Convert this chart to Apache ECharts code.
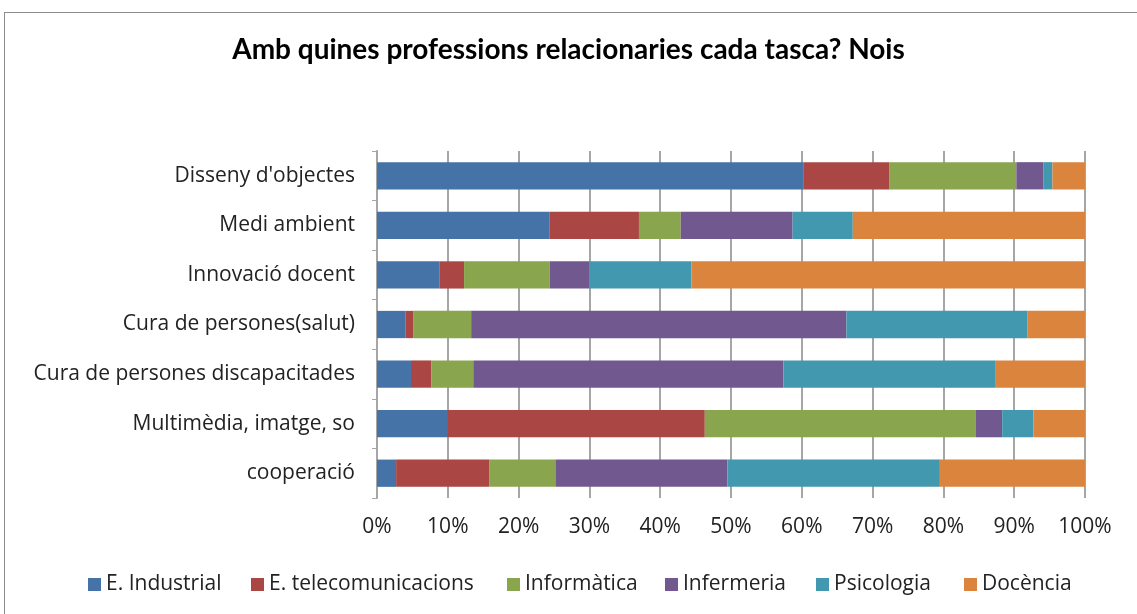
<!DOCTYPE html>
<html>
<head>
<meta charset="utf-8">
<script src="https://cdn.jsdelivr.net/npm/echarts@6/dist/echarts.min.js"></script>
<style>
  html, body { margin: 0; padding: 0; background: #fff; }
  #frame { position: absolute; left: 4px; top: 12px; width: 1140px; height: 610px; border: 1px solid #8c8c8c; box-sizing: border-box; }
  #chart { position: absolute; left: 0; top: 0; width: 1137px; height: 614px; }
</style>
</head>
<body>
<div id="frame"></div>
<div id="chart"></div>
<script>
// categories, bottom to top
var tasks = ['cooperació', 'Multimèdia, imatge, so', 'Cura de persones discapacitades',
  'Cura de persones(salut)', 'Innovació docent', 'Medi ambient', "Disseny d'objectes"];

var industrial = [2.7, 9.9, 4.8, 4.0, 8.8, 24.4, 60.2];
var telecom    = [13.2, 36.4, 2.9, 1.1, 3.5, 12.6, 12.2];
var informatica = [9.3, 38.3, 5.9, 8.2, 12.1, 5.9, 17.9];
var infermeria = [24.3, 3.7, 43.8, 53.0, 5.6, 15.8, 3.8];
var psicologia = [30.0, 4.4, 30.0, 25.6, 14.4, 8.5, 1.3];
var docencia   = [20.5, 7.3, 12.6, 8.1, 55.6, 32.8, 4.6];

var xTicks = ['0%', '10%', '20%', '30%', '40%', '50%', '60%', '70%', '80%', '90%', '100%'];

var names = ['E. Industrial', 'E. telecomunicacions', 'Informàtica', 'Infermeria', 'Psicologia', 'Docència'];
var colors = ['#4572A7', '#AA4643', '#89A54E', '#71588F', '#4198AF', '#DB843D'];
var values = [industrial, telecom, informatica, infermeria, psicologia, docencia];
// left edge of each legend marker
var legendX = [88, 251, 507, 665, 816, 964];

var chart = echarts.init(document.getElementById('chart'));

var series = names.map(function (n, i) {
  return {
    name: n,
    type: 'bar',
    stack: 'total',
    barWidth: '55%',
    itemStyle: { color: colors[i] },
    data: values[i]
  };
});

var legends = names.map(function (n, i) {
  return {
    left: legendX[i] - 5,
    top: 569,
    itemWidth: 13,
    itemHeight: 13,
    icon: 'rect',
    textStyle: { fontFamily: 'Open Sans', fontSize: 21, color: '#222' },
    data: [n]
  };
});

var option = {
  backgroundColor: 'transparent',
  animation: false,
  color: colors,
  title: {
    text: 'Amb quines professions relacionaries cada tasca? Nois',
    left: 'center',
    top: 31,
    textStyle: { fontFamily: 'Lato', fontWeight: 'bold', fontSize: 28, color: '#000' }
  },
  legend: legends,
  grid: { left: 377, right: 52, top: 151, bottom: 116, containLabel: false },
  xAxis: {
    type: 'value',
    min: 0,
    max: 100,
    interval: 10,
    axisLine: { show: false },
    axisTick: { show: false },
    splitLine: { show: true, lineStyle: { color: '#a6a6a6', width: 2 } },
    axisLabel: {
      margin: 19,
      fontFamily: 'Open Sans', fontSize: 21, color: '#222',
      formatter: function (v) { return xTicks[Math.round(v / 10)]; }
    }
  },
  yAxis: {
    type: 'category',
    data: tasks,
    axisLine: { show: true, lineStyle: { color: '#a6a6a6', width: 2 } },
    axisTick: { show: true, length: 5, lineStyle: { color: '#a6a6a6' } },
    axisLabel: { margin: 22, fontFamily: 'Open Sans', fontSize: 21, color: '#222' }
  },
  series: series
};

chart.setOption(option);
</script>
</body>
</html>
